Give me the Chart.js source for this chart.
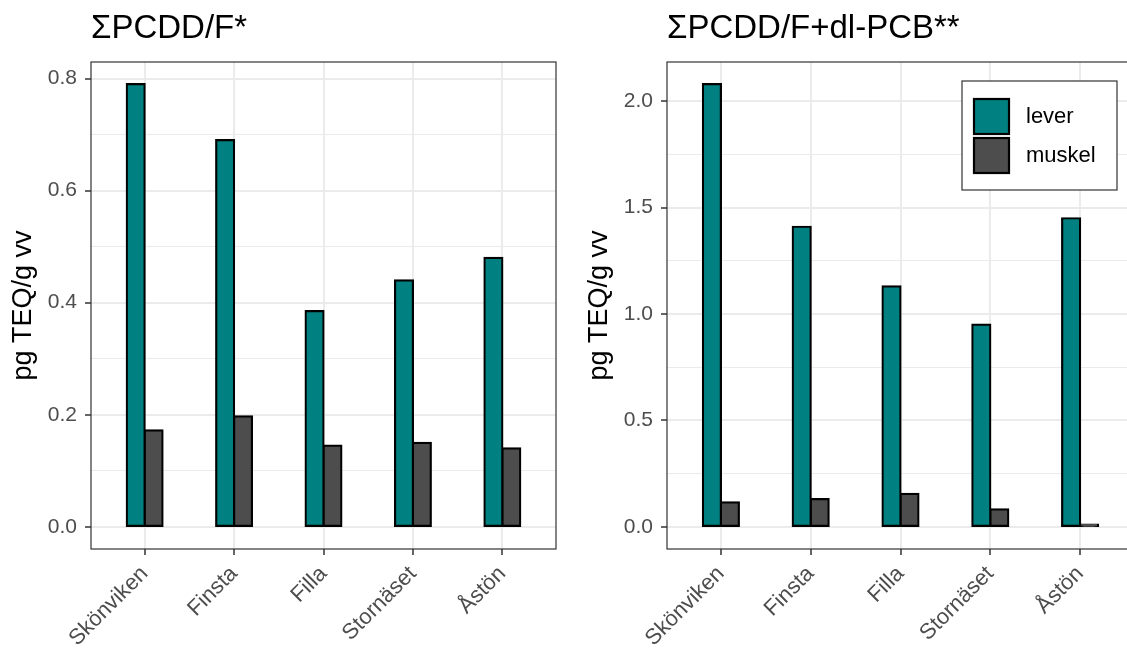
<!DOCTYPE html>
<html>
<head>
<meta charset="utf-8">
<script src="https://cdn.jsdelivr.net/npm/chart.js@4"></script>
<style>
    body { margin: 0; background: #fff; overflow: hidden; }
    #wrap { position: relative; width: 1127px; height: 653px; overflow: hidden; }
    canvas { position: absolute; top: 0; }
    #pcddChart { left: 0; }
    #totChart { left: 563px; }
</style>
</head>
<body>
<div id="wrap">
    <canvas id="pcddChart" width="563" height="653"></canvas>
    <canvas id="totChart" width="580" height="653"></canvas>
</div>
<script>
// sites on the x axis
var sites = ["Skönviken", "Finsta", "Filla", "Stornäset", "Åstön"];
var seriesNames = ["lever", "muskel"];

// ΣPCDD/F, pg TEQ/g vv
var pcddLever = [0.79, 0.69, 0.385, 0.44, 0.48];
var pcddMuskel = [0.172, 0.197, 0.145, 0.15, 0.14];

// ΣPCDD/F + dl-PCB, pg TEQ/g vv
var totLever = [2.08, 1.41, 1.13, 0.95, 1.45];
var totMuskel = [0.115, 0.13, 0.155, 0.082, 0.011];

// y ticks (labelled) and minor grid lines
var pcddTicks = [0, 0.2, 0.4, 0.6, 0.8];
var pcddMinor = [0.1, 0.3, 0.5, 0.7];
var totTicks = [0, 0.5, 1.0, 1.5, 2.0];
var totMinor = [0.25, 0.75, 1.25, 1.75];

var colLever = '#008080';
var colMuskel = '#4d4d4d';
var fontName = '"Liberation Sans", Arial, sans-serif';

// turn a value array into points on a numeric x axis (1..n)
function toPoints(arr) {
    return arr.map(function (v, i) { return { x: i + 1, y: v }; });
}

// 5% padding above and below, like the usual ggplot expansion
function expand(vals) {
    var hi = Math.max.apply(null, vals);
    return { min: -hi * 0.05, max: hi * 1.05 };
}

// outline round the whole plot panel
var panelBorder = {
    id: 'panelBorder',
    afterDatasetsDraw: function (chart) {
        var a = chart.chartArea, ctx = chart.ctx;
        ctx.save();
        ctx.strokeStyle = '#333333';
        ctx.lineWidth = 1.2;
        ctx.strokeRect(a.left, a.top, a.right - a.left, a.bottom - a.top);
        ctx.restore();
    }
};

// boxed legend in the top right corner of the panel
var legendBox = {
    id: 'legendBox',
    afterDraw: function (chart) {
        var a = chart.chartArea, ctx = chart.ctx;
        var x = a.right - 172, y = a.top + 19, w = 155, h = 109;
        ctx.save();
        ctx.fillStyle = '#fff';
        ctx.fillRect(x, y, w, h);
        ctx.strokeStyle = '#333333';
        ctx.lineWidth = 1.2;
        ctx.strokeRect(x, y, w, h);
        chart.data.datasets.forEach(function (ds, i) {
            var ky = y + 18 + i * 39;
            ctx.fillStyle = ds.backgroundColor;
            ctx.fillRect(x + 12, ky, 35, 35);
            ctx.strokeStyle = '#000';
            ctx.lineWidth = 2.2;
            ctx.strokeRect(x + 12, ky, 35, 35);
            ctx.fillStyle = '#000';
            ctx.font = '22px ' + fontName;
            ctx.textBaseline = 'middle';
            ctx.textAlign = 'left';
            ctx.fillText(ds.label, x + 64, ky + 18);
        });
        ctx.restore();
    }
};

function makePanel(canvasId, title, lever, muskel, ticks, minor, axisWidth, titlePad, padRight, plugins) {
    var ctx = document.getElementById(canvasId).getContext('2d');
    var lim = expand(lever.concat(muskel));
    var allTicks = ticks.map(function (v) { return { value: v, major: true }; })
        .concat(minor.map(function (v) { return { value: v, major: false }; }))
        .sort(function (p, q) { return p.value - q.value; });

    return new Chart(ctx, {
        type: 'bar',
        data: {
            datasets: [{
                label: seriesNames[0],
                data: toPoints(lever),
                backgroundColor: colLever
            }, {
                label: seriesNames[1],
                data: toPoints(muskel),
                backgroundColor: colMuskel
            }]
        },
        options: {
            responsive: false,
            animation: false,
            categoryPercentage: 0.4,
            barPercentage: 1,
            // outline sits on the bar edge: grow 1px, draw 2px inward
            elements: {
                bar: { borderColor: '#000', borderWidth: 2.2, borderSkipped: false, inflateAmount: 1.1 }
            },
            layout: { padding: { left: 0, right: padRight, top: 0, bottom: 0 } },
            plugins: {
                legend: { display: false },
                tooltip: { enabled: false },
                title: {
                    display: true,
                    text: title,
                    align: 'start',
                    fullSize: false,
                    color: '#000',
                    font: { family: fontName, size: 33, weight: 'normal', lineHeight: 1 },
                    padding: { top: 12.5, bottom: 16.5 }
                }
            },
            scales: {
                x: {
                    type: 'linear',
                    min: 0.4,
                    max: sites.length + 0.6,
                    offset: false,
                    afterBuildTicks: function (scale) {
                        scale.ticks = sites.map(function (s, i) { return { value: i + 1 }; });
                    },
                    afterFit: function (scale) {
                        scale.height = 104;
                        scale.paddingLeft = 0;
                        scale.paddingRight = 0;
                    },
                    ticks: {
                        autoSkip: false,
                        minRotation: 45,
                        maxRotation: 45,
                        padding: 6,
                        color: '#4d4d4d',
                        font: { family: fontName, size: 22 },
                        callback: function (value) { return sites[value - 1]; }
                    },
                    grid: {
                        offset: false,
                        color: '#ebebeb',
                        lineWidth: 2,
                        tickLength: 6,
                        tickColor: '#333333',
                        tickWidth: 1.5
                    },
                    border: { display: false }
                },
                y: {
                    min: lim.min,
                    max: lim.max,
                    afterBuildTicks: function (scale) {
                        scale.ticks = allTicks.map(function (t) { return { value: t.value, major: t.major }; });
                    },
                    afterFit: function (scale) {
                        scale.width = axisWidth;
                        scale.paddingTop = 0;
                        scale.paddingBottom = 0;
                    },
                    ticks: {
                        autoSkip: false,
                        padding: 8,
                        color: '#4d4d4d',
                        font: { family: fontName, size: 21 },
                        callback: function (value, index, tk) {
                            return tk[index].major ? value.toFixed(1) : '';
                        }
                    },
                    grid: {
                        color: '#ebebeb',
                        lineWidth: function (c) { return c.tick && c.tick.major ? 2 : 1; },
                        tickLength: 6,
                        tickColor: function (c) { return c.tick && c.tick.major ? '#333333' : 'rgba(0,0,0,0)'; },
                        tickWidth: 1.5
                    },
                    border: { display: false },
                    title: {
                        display: true,
                        text: 'pg TEQ/g vv',
                        color: '#000',
                        font: { family: fontName, size: 27, lineHeight: 1 },
                        padding: { top: titlePad, bottom: 0 }
                    }
                }
            }
        },
        plugins: plugins
    });
}

//LEFT PANEL
var pcddChart = makePanel("pcddChart", "ΣPCDD/F*", pcddLever, pcddMuskel,
    pcddTicks, pcddMinor, 91, 10.5, 7, [panelBorder]);

//RIGHT PANEL (runs a little past the edge of the page)
var totChart = makePanel("totChart", "ΣPCDD/F+dl-PCB**", totLever, totMuskel,
    totTicks, totMinor, 104, 23.5, 9, [panelBorder, legendBox]);
</script>
</body>
</html>
